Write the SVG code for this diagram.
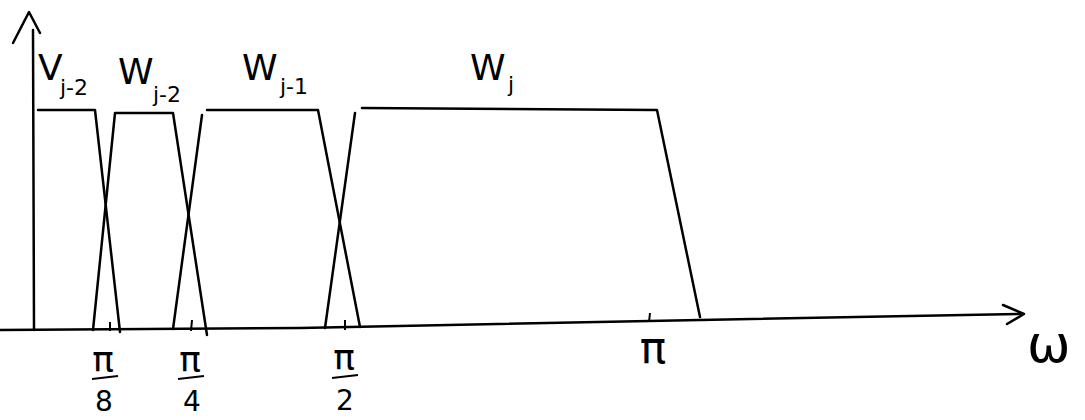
<svg xmlns="http://www.w3.org/2000/svg" width="1085" height="420" viewBox="0 0 1085 420">
<style>
.ln{fill:none;stroke:#000;stroke-width:2.5;stroke-linecap:round;stroke-linejoin:round}
.tk{fill:none;stroke:#000;stroke-width:2}
.lb{font-family:"DejaVu Sans","Liberation Sans",sans-serif;fill:#000}
.big{font-size:36px}
.sub{font-size:22px}
.pi{font-size:36px;text-anchor:middle}
.dg{font-size:28px;text-anchor:middle}
</style>
<rect width="1085" height="420" fill="#fff"/>
<g id="axes">
<path class="ln" d="M33,30 L34,330"/>
<path class="ln" d="M13,43 L29,12 L40,33"/>
<path class="ln" d="M0,330 L300,328 L700,320 L1020,314"/>
<path class="ln" d="M1003,305 L1024,314 L1007,324"/>
</g>
<g id="curves">
<path class="ln" d="M38,110 L95,110 L120,332"/>
<path class="ln" d="M93,330 L115,113 L173,113 L207,335"/>
<path class="ln" d="M173,329 L202,115"/>
<path class="ln" d="M207,110 L318,110 L360,327"/>
<path class="ln" d="M325,328 L355,113"/>
<path class="ln" d="M362,108 L657,110 L700,317"/>
</g>
<g id="ticks">
<path class="tk" d="M110,322 L110,331"/>
<path class="tk" d="M192,320 L191,331"/>
<path class="tk" d="M345,320 L345,330"/>
<path class="tk" d="M650,313 L649,322"/>
</g>
<g id="labels">
<text class="lb big" x="38" y="80">V</text><text class="lb sub" x="60" y="95">j-2</text>
<text class="lb big" x="118" y="84">W</text><text class="lb sub" x="153" y="102">j-2</text>
<text class="lb big" x="242" y="80">W</text><text class="lb sub" x="280" y="94">j-1</text>
<text class="lb big" x="470" y="80">W</text><text class="lb sub" x="508" y="92">j</text>
<text class="lb pi" x="103" y="372">π</text><path class="tk" d="M92,379 L118,376"/><text class="lb dg" x="104" y="411">8</text>
<text class="lb pi" x="190" y="372">π</text><path class="tk" d="M178,379 L204,376"/><text class="lb dg" x="192" y="411">4</text>
<text class="lb pi" x="344" y="370">π</text><path class="tk" d="M332,378 L358,375"/><text class="lb dg" x="345" y="410">2</text>
<text class="lb" x="653" y="363" font-size="44" text-anchor="middle">π</text>
<text class="lb" x="1027" y="362" font-size="52">ω</text>
</g>
</svg>
